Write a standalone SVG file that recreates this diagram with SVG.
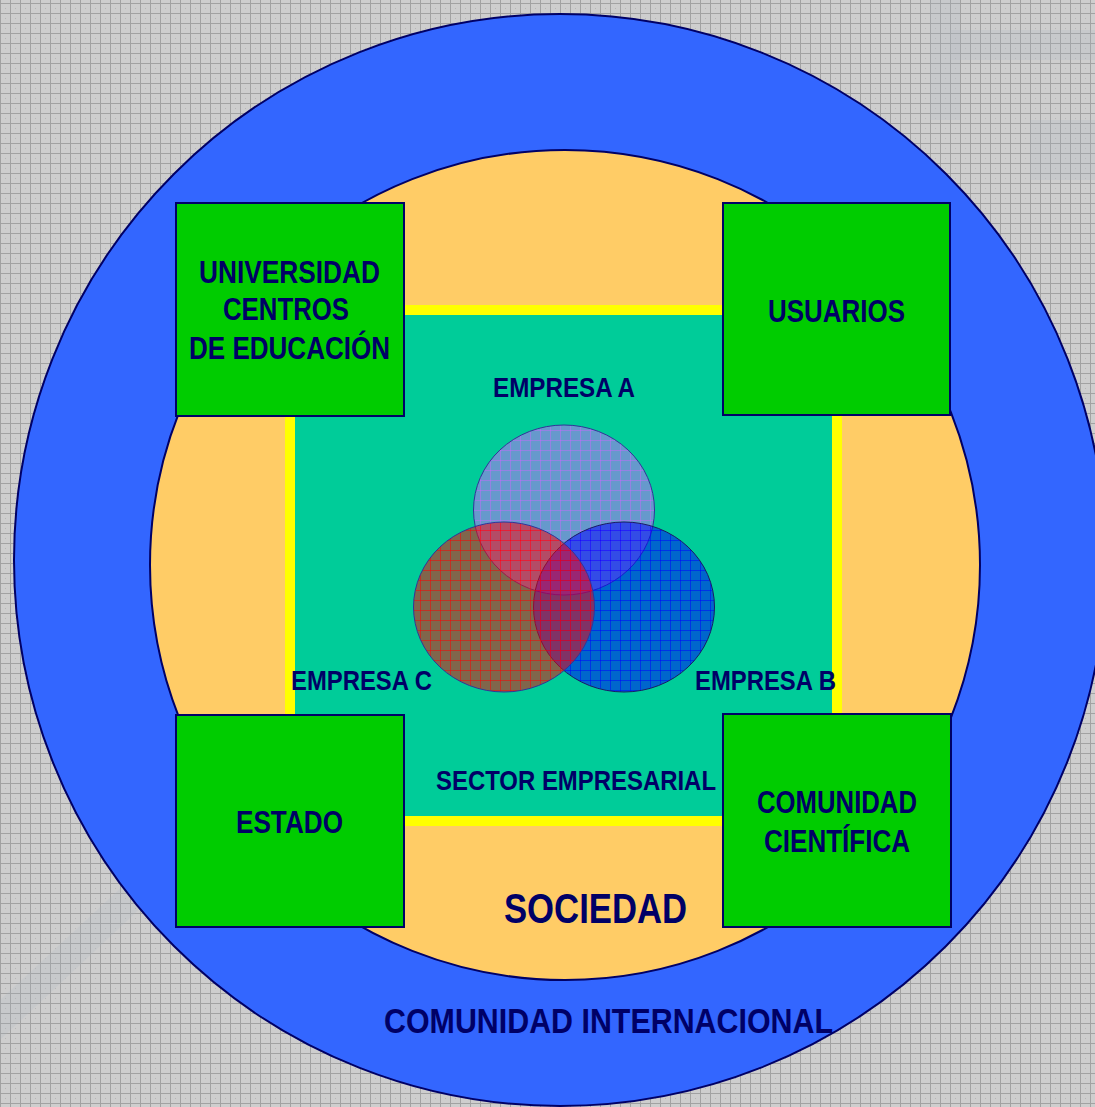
<svg xmlns="http://www.w3.org/2000/svg" width="1095" height="1107" viewBox="0 0 1095 1107">
<defs>
<pattern id="bg" patternUnits="userSpaceOnUse" x="0" y="3" width="10" height="10">
<rect width="10" height="10" fill="#CECECE"/>
<rect x="5" y="5" width="1" height="1" fill="#B5B5B5"/>
<path d="M0 0.5H10M0.5 0V10" stroke="#A2A2A2" stroke-width="1" fill="none"/>
</pattern>
<pattern id="pA" patternUnits="userSpaceOnUse" x="0" y="0" width="10" height="10">
<rect width="10" height="10" fill="#CC66FF" fill-opacity="0.5"/>
<path d="M0 0.5H10M0.5 0V10" stroke="#CC66FF" stroke-opacity="0.45" stroke-width="1" fill="none"/>
</pattern>
<pattern id="pB" patternUnits="userSpaceOnUse" x="0" y="0" width="10" height="10">
<rect width="10" height="10" fill="#0000FF" fill-opacity="0.5"/>
<path d="M0 0.5H10M0.5 0V10" stroke="#0000FF" stroke-opacity="0.5" stroke-width="1" fill="none"/>
</pattern>
<pattern id="pC" patternUnits="userSpaceOnUse" x="0" y="0" width="10" height="10">
<rect width="10" height="10" fill="#FF0000" fill-opacity="0.5"/>
<path d="M0 0.5H10M0.5 0V10" stroke="#FF0000" stroke-opacity="0.5" stroke-width="1" fill="none"/>
</pattern>
</defs>
<style>
.t{font-family:"Liberation Sans",Arial,sans-serif;font-weight:bold;fill:#000066}
.box{fill:#00CC00;stroke:#000066;stroke-width:2}
.wm{fill:#AEB6C4;opacity:0.18}
</style>

<g id="background">
<rect width="1095" height="1107" fill="url(#bg)"/>
<path class="wm" d="M0 1000 L140 870 L160 890 L0 1040 Z"/>
<path class="wm" d="M950 30 L1095 30 L1095 60 L950 60 Z"/>
<path class="wm" d="M930 0 L960 0 L960 120 L930 120 Z"/>
<path class="wm" d="M1030 120 L1095 120 L1095 180 L1030 180 Z"/>
</g>

<g id="comunidad-internacional">
<circle cx="560" cy="560" r="546" fill="#3366FF" stroke="#000066" stroke-width="2"/>
<text class="t" x="384" y="1033" font-size="35" textLength="449" lengthAdjust="spacingAndGlyphs">COMUNIDAD INTERNACIONAL</text>
</g>

<g id="sociedad">
<circle cx="565" cy="565" r="415" fill="#FFCC66" stroke="#000066" stroke-width="2"/>
<text class="t" x="504" y="923" font-size="42" textLength="183" lengthAdjust="spacingAndGlyphs">SOCIEDAD</text>
</g>

<g id="connectors">
<rect x="290" y="310" width="547" height="511" fill="#00CC99" stroke="#FFFF00" stroke-width="10"/>
</g>

<g id="sector-empresarial">
<text class="t" x="436" y="790" font-size="28" textLength="280" lengthAdjust="spacingAndGlyphs">SECTOR EMPRESARIAL</text>
</g>

<g id="empresa-a">
<ellipse cx="564" cy="510" rx="90.5" ry="85" fill="url(#pA)" stroke="#333399" stroke-width="1"/>
<text class="t" x="493" y="397" font-size="28" textLength="142" lengthAdjust="spacingAndGlyphs">EMPRESA A</text>
</g>

<g id="empresa-b">
<ellipse cx="624" cy="607" rx="90.5" ry="85" fill="url(#pB)" stroke="#1a1a66" stroke-width="1"/>
<text class="t" x="695" y="690" font-size="28" textLength="141" lengthAdjust="spacingAndGlyphs">EMPRESA B</text>
</g>

<g id="empresa-c">
<ellipse cx="504" cy="607" rx="90.5" ry="85" fill="url(#pC)" stroke="#333399" stroke-width="1"/>
<text class="t" x="291" y="690" font-size="28" textLength="141" lengthAdjust="spacingAndGlyphs">EMPRESA C</text>
</g>

<g id="universidad">
<rect class="box" x="176" y="203" width="228" height="213"/>
<text class="t" x="199" y="283" font-size="31" textLength="181" lengthAdjust="spacingAndGlyphs">UNIVERSIDAD</text>
<text class="t" x="223" y="320" font-size="31" textLength="126" lengthAdjust="spacingAndGlyphs">CENTROS</text>
<text class="t" x="189" y="359" font-size="31" textLength="201" lengthAdjust="spacingAndGlyphs">DE EDUCACIÓN</text>
</g>

<g id="usuarios">
<rect class="box" x="723" y="203" width="227" height="212"/>
<text class="t" x="768" y="322" font-size="31" textLength="137" lengthAdjust="spacingAndGlyphs">USUARIOS</text>
</g>

<g id="estado">
<rect class="box" x="176" y="715" width="228" height="212"/>
<text class="t" x="236" y="833" font-size="31" textLength="107" lengthAdjust="spacingAndGlyphs">ESTADO</text>
</g>

<g id="comunidad-cientifica">
<rect class="box" x="723" y="714" width="228" height="213"/>
<text class="t" x="757" y="813" font-size="31" textLength="160" lengthAdjust="spacingAndGlyphs">COMUNIDAD</text>
<text class="t" x="764" y="852" font-size="31" textLength="146" lengthAdjust="spacingAndGlyphs">CIENTÍFICA</text>
</g>
</svg>
